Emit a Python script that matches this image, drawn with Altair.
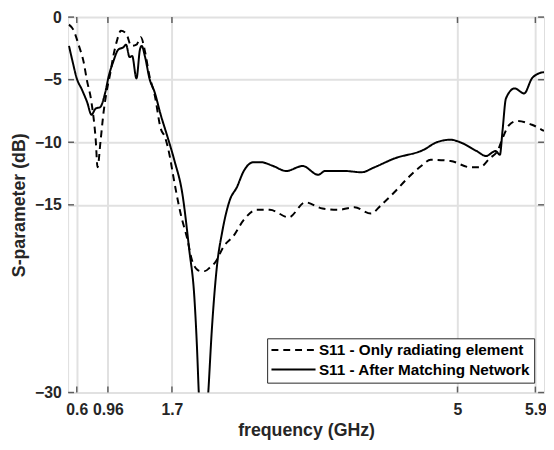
import altair as alt
import pandas as pd

# Dashed: S11 - Only radiating element
f_only = [0.51, 0.56, 0.625, 0.68, 0.716, 0.77, 0.82, 0.84, 0.875, 0.91, 0.944, 0.99, 1.02, 1.06,
          1.11, 1.17, 1.23, 1.29, 1.34, 1.39, 1.44, 1.50, 1.57, 1.62, 1.68, 1.71, 1.80, 1.88, 1.93,
          1.98, 2.03, 2.08, 2.14, 2.20, 2.30, 2.41, 2.53, 2.68, 2.83, 3.05, 3.24, 3.44, 3.62, 3.81,
          4.00, 4.12, 4.27, 4.42, 4.58, 4.69, 4.92, 5.15, 5.26, 5.37, 5.47, 5.52, 5.60, 5.69, 5.86, 6.00]
db_only = [-0.6, -1.0, -2.3, -3.6, -5.0, -6.8, -9.9, -12.0, -9.9, -7.6, -6.0, -4.4, -3.2, -2.0,
           -1.1, -1.3, -2.3, -2.2, -1.6, -2.8, -4.7, -6.2, -8.9, -9.6, -11.3, -12.5, -15.7, -17.8, -19.4,
           -20.1, -20.3, -20.3, -20.0, -19.6, -18.3, -17.5, -16.2, -15.4, -15.4, -16.0, -14.8, -15.3, -15.4, -15.2,
           -15.7, -15.0, -14.0, -12.9, -11.9, -11.4, -11.5, -12.0, -12.0, -11.3, -10.6, -9.7, -8.6, -8.3, -8.6, -9.1]

# Solid: S11 - After Matching Network
f_match = [0.51, 0.55, 0.60, 0.66, 0.72, 0.77, 0.82, 0.87, 0.93, 0.97, 1.02, 1.08, 1.14, 1.17, 1.21,
           1.24, 1.29, 1.33, 1.35, 1.39, 1.44, 1.50, 1.57, 1.65, 1.73, 1.82, 1.90, 1.96, 1.99, 2.01,
           2.06, 2.12, 2.16, 2.22, 2.28, 2.37, 2.45, 2.53, 2.64, 2.73, 2.87, 3.02, 3.21, 3.39, 3.47,
           3.70, 3.89, 4.04, 4.27, 4.61, 4.76, 4.92, 5.03, 5.22, 5.33, 5.44, 5.49, 5.52, 5.56, 5.66,
           5.77, 5.86, 5.94, 6.00]
db_match = [-2.3, -3.5, -4.9, -5.8, -6.8, -7.8, -7.3, -7.2, -6.0, -4.7, -3.6, -2.6, -2.4, -2.2, -3.2,
            -3.1, -4.9, -2.6, -2.3, -3.2, -4.9, -6.0, -7.8, -9.6, -11.5, -14.1, -18.6, -22.5, -26.5, -30.0,
            -36.0, -30.0, -25.1, -19.9, -17.2, -14.6, -13.6, -12.3, -11.6, -11.6, -11.9, -12.3, -11.9, -12.6, -12.3,
            -12.3, -12.4, -12.0, -11.3, -10.6, -10.0, -9.8, -10.0, -10.7, -11.1, -10.7, -11.0, -9.1, -6.5, -5.7,
            -6.1, -4.9, -4.5, -4.4]

series_names = ["S11 - Only radiating element", "S11 - After Matching Network"]
x_ticks = [0.6, 0.96, 1.7, 5, 5.9]
y_ticks = [-30, -15, -10, -5, 0]

rows = []
for i, (f, d) in enumerate(zip(f_only, db_only)):
    rows.append({"f": f, "db": d, "series": series_names[0], "order": i})
for i, (f, d) in enumerate(zip(f_match, db_match)):
    rows.append({"f": f, "db": d, "series": series_names[1], "order": i})
df = pd.DataFrame(rows)

W, H = 483, 381
FONT = "Liberation Sans"
TXT = "#262626"

xscale = alt.Scale(domain=[0.5, 6.0], nice=False, zero=False)
yscale = alt.Scale(domain=[-30, 0], nice=False, zero=False)

lines = alt.Chart(df).mark_line(strokeWidth=2, clip=True, color="black", interpolate="monotone").encode(
    x=alt.X("f:Q", scale=xscale,
            axis=alt.Axis(values=x_ticks, format="~g", title="frequency (GHz)", grid=True,
                          gridColor="#e1e1e1", gridWidth=2, domain=False, ticks=False,
                          labelOverlap=False,
                          labelFont=FONT, labelFontSize=16, labelFontWeight="bold", labelColor=TXT,
                          labelPadding=9, titleFont=FONT, titleFontSize=18, titleFontWeight="bold",
                          titleColor=TXT, titlePadding=5, labelFlush=False)),
    y=alt.Y("db:Q", scale=yscale,
            axis=alt.Axis(values=y_ticks, title="S-parameter (dB)", grid=True,
                          gridColor="#e1e1e1", gridWidth=2, domain=False, ticks=False,
                          labelOverlap=False,
                          labelFont=FONT, labelFontSize=16, labelFontWeight="bold", labelColor=TXT,
                          labelPadding=7, titleFont=FONT, titleFontSize=18, titleFontWeight="bold",
                          titleColor=TXT, titlePadding=6, labelFlush=False)),
    strokeDash=alt.StrokeDash("series:N", sort=series_names,
                              scale=alt.Scale(domain=series_names, range=[[7, 5], [1, 0]]),
                              legend=alt.Legend(title=None, orient="none", legendX=202, legendY=326,
                                                symbolType="M-4,0H4", symbolSize=125,
                                                symbolStrokeWidth=2, symbolStrokeColor="black",
                                                symbolFillColor="transparent", symbolOffset=15,
                                                labelFont=FONT, labelFontSize=15.5,
                                                labelFontWeight="bold", labelColor="black",
                                                labelLimit=400, rowPadding=3,
                                                strokeColor=TXT, fillColor="white",
                                                padding=4, labelOffset=18)),
    order="order:Q",
)

tick_df = pd.DataFrame({"t": x_ticks})
ytick_df = pd.DataFrame({"t": y_ticks})
xt_bottom = alt.Chart(tick_df).mark_tick(color=TXT, thickness=1.5, size=6, orient="vertical").encode(
    x=alt.X("t:Q", scale=xscale), y=alt.value(H - 3))
xt_top = alt.Chart(tick_df).mark_tick(color=TXT, thickness=1.5, size=6, orient="vertical").encode(
    x=alt.X("t:Q", scale=xscale), y=alt.value(3))
yt_left = alt.Chart(ytick_df).mark_tick(color=TXT, thickness=1.5, size=6, orient="horizontal").encode(
    y=alt.Y("t:Q", scale=yscale), x=alt.value(3))
yt_right = alt.Chart(ytick_df).mark_tick(color=TXT, thickness=1.5, size=6, orient="horizontal").encode(
    y=alt.Y("t:Q", scale=yscale), x=alt.value(W - 3))

chart = alt.layer(lines, xt_bottom, xt_top, yt_left, yt_right).properties(
    width=W, height=H,
    autosize=alt.AutoSizeParams(type="none"),
    padding={"left": 61, "top": 6, "right": 2, "bottom": 47},
).configure_view(stroke=TXT, strokeWidth=2).configure(background="white")

chart.save("out.html", embed_options={"renderer": "svg", "actions": False})
